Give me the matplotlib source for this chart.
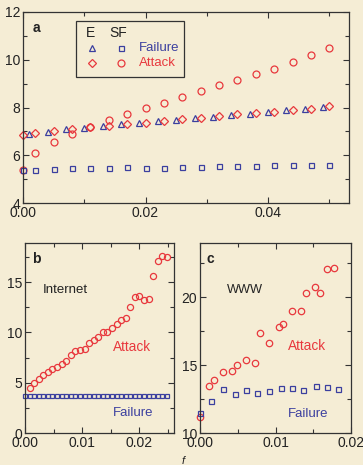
import matplotlib
matplotlib.use("Agg")
import matplotlib.pyplot as plt
from matplotlib.patches import Rectangle
from matplotlib.ticker import MultipleLocator

plt.rcParams["font.family"] = ["Liberation Sans", "DejaVu Sans"]

RED = "#e8383d"
BLUE = "#3b3f9f"
BG = "#f5edd5"
INK = "#222222"

# panel a: exponential (E) and scale-free (SF) networks
e_fail_f = [0.001, 0.004, 0.007, 0.010, 0.013, 0.016, 0.019, 0.022, 0.025,
            0.028, 0.031, 0.034, 0.037, 0.040, 0.043, 0.046, 0.049]
e_fail_d = [6.90, 6.97, 7.10, 7.14, 7.21, 7.29, 7.34, 7.43, 7.49,
            7.56, 7.60, 7.70, 7.74, 7.82, 7.88, 7.94, 8.01]
a_f = [0.000, 0.002, 0.005, 0.008, 0.011, 0.014, 0.017, 0.020, 0.023,
       0.026, 0.029, 0.032, 0.035, 0.038, 0.041, 0.044, 0.047, 0.050]
e_att_d = [6.86, 6.93, 7.03, 7.11, 7.17, 7.21, 7.29, 7.36, 7.43,
           7.50, 7.54, 7.63, 7.71, 7.77, 7.82, 7.91, 7.95, 8.05]
sf_att_d = [5.39, 6.11, 6.55, 6.90, 7.18, 7.46, 7.71, 7.98, 8.19,
            8.44, 8.69, 8.93, 9.16, 9.39, 9.63, 9.91, 10.18, 10.48]
sf_fail_d = [5.39, 5.40, 5.42, 5.46, 5.45, 5.46, 5.49, 5.46, 5.47,
             5.50, 5.50, 5.53, 5.55, 5.57, 5.59, 5.59, 5.59, 5.60]

# panel b: Internet
inet_att_f = [0.0008, 0.0016, 0.0024, 0.0032, 0.0040, 0.0048, 0.0056, 0.0064,
              0.0072, 0.0080, 0.0088, 0.0096, 0.0104, 0.0112, 0.0120, 0.0128,
              0.0136, 0.0144, 0.0152, 0.0160, 0.0168, 0.0176, 0.0184, 0.0192,
              0.0200, 0.0208, 0.0216, 0.0224, 0.0232, 0.0240, 0.0248]
inet_att_d = [4.50, 5.00, 5.37, 5.80, 6.07, 6.37, 6.60, 6.83, 7.17, 7.73,
              8.20, 8.30, 8.37, 8.93, 9.27, 9.60, 10.00, 10.00, 10.40, 10.83,
              11.27, 11.43, 12.57, 13.57, 13.63, 13.23, 13.33, 15.57, 17.07,
              17.60, 17.47]
inet_fail_f = [0.0000, 0.0008, 0.0016, 0.0024, 0.0032, 0.0040, 0.0048, 0.0056,
               0.0064, 0.0072, 0.0080, 0.0088, 0.0096, 0.0104, 0.0112, 0.0120,
               0.0128, 0.0136, 0.0144, 0.0152, 0.0160, 0.0168, 0.0176, 0.0184,
               0.0192, 0.0200, 0.0208, 0.0216, 0.0224, 0.0232, 0.0240, 0.0248]
inet_fail_d = [3.70, 3.70, 3.71, 3.70, 3.70, 3.69, 3.70, 3.70, 3.71, 3.70,
               3.70, 3.70, 3.69, 3.70, 3.70, 3.71, 3.70, 3.70, 3.70, 3.70,
               3.69, 3.70, 3.70, 3.71, 3.70, 3.70, 3.70, 3.70, 3.69, 3.70,
               3.70, 3.70]

# panel c: WWW
www_att_f = [0.0000, 0.0012, 0.0019, 0.0030, 0.0042, 0.0049, 0.0061, 0.0073,
             0.0080, 0.0092, 0.0104, 0.0110, 0.0122, 0.0134, 0.0140, 0.0152,
             0.0159, 0.0168, 0.0177]
www_att_d = [11.18, 13.43, 13.87, 14.49, 14.58, 14.98, 15.39, 15.17, 17.35,
             16.64, 17.82, 18.01, 18.97, 18.99, 20.32, 20.74, 20.29, 22.06, 22.13]
www_fail_f = [0.0000, 0.0015, 0.0031, 0.0046, 0.0061, 0.0076, 0.0092, 0.0107,
              0.0122, 0.0137, 0.0153, 0.0168, 0.0183]
www_fail_d = [11.47, 12.35, 13.26, 12.84, 13.19, 12.92, 13.06, 13.31, 13.31,
              13.14, 13.50, 13.38, 13.21]


def style_axes(ax, xmaj, xmin, ymaj, ymin):
    ax.set_facecolor(BG)
    for s in ax.spines.values():
        s.set_color("#333333")
        s.set_linewidth(0.9)
    ax.xaxis.set_major_locator(MultipleLocator(xmaj))
    ax.xaxis.set_minor_locator(MultipleLocator(xmin))
    ax.yaxis.set_major_locator(MultipleLocator(ymaj))
    ax.yaxis.set_minor_locator(MultipleLocator(ymin))
    ax.tick_params(which="both", direction="in", top=True, right=True,
                   colors="#333333", labelcolor=INK, labelsize=10, width=0.8)
    ax.tick_params(which="major", length=4)
    ax.tick_params(which="minor", length=3)
    ax.tick_params(axis="x", pad=2)
    ax.tick_params(axis="y", pad=2)


def hollow(ax, x, y, marker, color, size, **kw):
    ax.plot(x, y, linestyle="none", marker=marker, markersize=size,
            markerfacecolor="none", markeredgecolor=color, markeredgewidth=0.9,
            clip_on=False, **kw)


fig = plt.figure(figsize=(3.63, 4.65), dpi=100, facecolor=BG)

# ---- panel a
ax_a = fig.add_axes([0.0634, 0.5634, 0.898, 0.4108])
style_axes(ax_a, 0.02, 0.01, 2, 1)
ax_a.set_xlim(0, 0.0532)
ax_a.set_ylim(4, 12)
ax_a.xaxis.set_major_formatter(plt.FuncFormatter(lambda v, p: f"{v:.2f}"))
hollow(ax_a, e_fail_f, e_fail_d, "^", BLUE, 4.2)
hollow(ax_a, a_f, e_att_d, "D", RED, 3.6)
hollow(ax_a, a_f, sf_att_d, "o", RED, 5.0)
hollow(ax_a, a_f, sf_fail_d, "s", BLUE, 3.6)
ax_a.text(0.028, 0.955, "a", transform=ax_a.transAxes, fontsize=10,
          fontweight="bold", color=INK, va="top")

# hand-built legend box
ax_a.add_patch(Rectangle((0.163, 0.66), 0.33, 0.293, transform=ax_a.transAxes,
                         fill=False, edgecolor="#333333", linewidth=0.9))
ax_a.text(0.207, 0.89, "E", transform=ax_a.transAxes, fontsize=10,
          color=INK, ha="center", va="center")
ax_a.text(0.292, 0.89, "SF", transform=ax_a.transAxes, fontsize=10,
          color=INK, ha="center", va="center")
leg_rows = [("^", "s", BLUE, "Failure", 0.81), ("D", "o", RED, "Attack", 0.733)]
for m_e, m_sf, col, label, yy in leg_rows:
    hollow(ax_a, [0.212], [yy], m_e, col, 4.0 if m_e == "^" else 3.6,
           transform=ax_a.transAxes)
    hollow(ax_a, [0.30], [yy], m_sf, col, 3.6 if m_sf == "s" else 5.0,
           transform=ax_a.transAxes)
    ax_a.text(0.356, yy, label, transform=ax_a.transAxes, fontsize=9.5,
              color=col, va="center")

# ---- panel b
ax_b = fig.add_axes([0.0689, 0.0688, 0.410, 0.4086])
style_axes(ax_b, 0.01, 0.005, 5, 2.5)
ax_b.set_xlim(0, 0.026)
ax_b.set_ylim(0, 18.9)
ax_b.xaxis.set_major_formatter(plt.FuncFormatter(lambda v, p: f"{v:.2f}"))
hollow(ax_b, inet_att_f, inet_att_d, "o", RED, 4.4)
hollow(ax_b, inet_fail_f, inet_fail_d, "s", BLUE, 3.3)
ax_b.text(0.05, 0.955, "b", transform=ax_b.transAxes, fontsize=10,
          fontweight="bold", color=INK, va="top")
ax_b.text(0.12, 0.755, "Internet", transform=ax_b.transAxes, fontsize=9.5,
          color=INK, va="center")
ax_b.text(0.59, 0.455, "Attack", transform=ax_b.transAxes, fontsize=9.8,
          color=RED, va="center")
ax_b.text(0.59, 0.105, "Failure", transform=ax_b.transAxes, fontsize=9.5,
          color=BLUE, va="center")

# ---- panel c
ax_c = fig.add_axes([0.551, 0.0688, 0.416, 0.4086])
style_axes(ax_c, 0.01, 0.005, 5, 2.5)
ax_c.set_xlim(0, 0.02)
ax_c.set_ylim(10, 24)
ax_c.xaxis.set_major_formatter(plt.FuncFormatter(lambda v, p: f"{v:.2f}"))
hollow(ax_c, www_att_f, www_att_d, "o", RED, 4.6)
hollow(ax_c, www_fail_f, www_fail_d, "s", BLUE, 3.6)
ax_c.text(0.045, 0.955, "c", transform=ax_c.transAxes, fontsize=10,
          fontweight="bold", color=INK, va="top")
ax_c.text(0.18, 0.755, "WWW", transform=ax_c.transAxes, fontsize=9.2,
          color=INK, va="center")
ax_c.text(0.585, 0.46, "Attack", transform=ax_c.transAxes, fontsize=9.8,
          color=RED, va="center")
ax_c.text(0.585, 0.1, "Failure", transform=ax_c.transAxes, fontsize=9.5,
          color=BLUE, va="center")

fig.text(183 / 363, 1 - 461 / 465, "f", fontsize=8, fontstyle="italic",
         color=INK, ha="center", va="center")

fig.savefig("out.png", dpi=100, facecolor=BG)
